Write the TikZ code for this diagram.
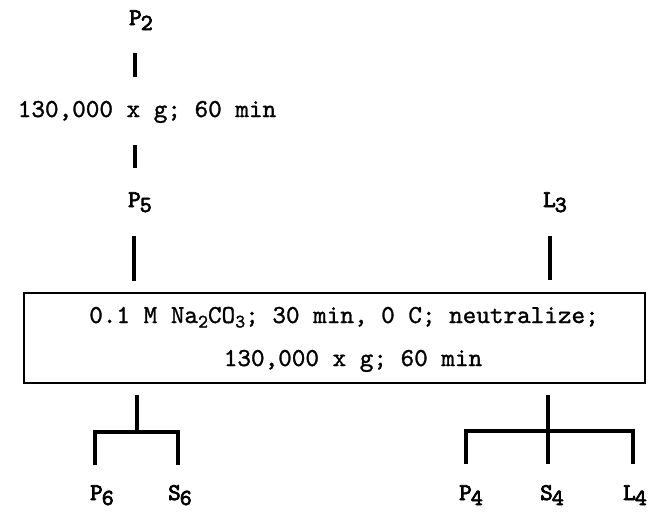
\documentclass[tikz,border=0pt]{standalone}
\usepackage{fontspec}
\newfontfamily\bodytt{lmmono10-regular}[Extension=.otf, FakeBold=1.2]
\newfontfamily\labtt{lmmono10-regular}[Extension=.otf, FakeBold=3]
\newcommand{\lab}[2]{#1\kern-1pt\raisebox{-5pt}{\fontsize{23}{23}\selectfont #2}}
\newcommand{\bsub}[1]{\raisebox{-4.5pt}{\fontsize{19}{19}\selectfont #1}}
\tikzset{
  lbl/.style={anchor=base, inner sep=0pt, font=\labtt\fontsize{24}{26}\selectfont},
  txt/.style={anchor=base, inner sep=0pt, font=\bodytt\fontsize{25.9}{28}\selectfont},
  thick line/.style={line width=3.4pt},
  boxline/.style={line width=1.2pt}
}
\begin{document}
\begin{tikzpicture}[x=1pt,y=-1pt]
\useasboundingbox (0,0) rectangle (655,512);
% labels
\node[lbl] (p2) at (141,25) {\lab{P}{2}};
\node[txt] (spin) at (147,117) {130,000 x g; 60 min};
\node[lbl] (p5) at (140,207) {\lab{P}{5}};
\node[lbl] (l3) at (555,207) {\lab{L}{3}};
\node[draw, boxline, minimum width=621pt, minimum height=90pt, inner sep=0pt] (box) at (334.5,338) {};
\node[txt] (line1) at (344,323) {0.1 M Na\bsub{2}CO\bsub{3}; 30 min, 0 C; neutralize;};
\node[txt] (line2) at (353,366) {130,000 x g; 60 min};
\node[lbl] (p6) at (102,500) {\lab{P}{6}};
\node[lbl] (s6) at (180,500) {\lab{S}{6}};
\node[lbl] (p4) at (471,500) {\lab{P}{4}};
\node[lbl] (s4) at (552,500) {\lab{S}{4}};
\node[lbl] (l4) at (635,500) {\lab{L}{4}};
% connector coordinates
\coordinate (t1a) at (135,53);  \coordinate (t1b) at (135,77);
\coordinate (t2a) at (135,145); \coordinate (t2b) at (135,168);
\coordinate (la) at (134,236);  \coordinate (lb) at (134,281);
\coordinate (ra) at (550,236);  \coordinate (rb) at (550,280);
\coordinate (ls) at (137,395);  \coordinate (lj) at (137,432);
\coordinate (lL) at (95,432);   \coordinate (lR) at (178,432);
\coordinate (lLb) at (95,465);  \coordinate (lRb) at (178,465);
\coordinate (rs) at (548,395);  \coordinate (rj) at (548,431);
\coordinate (rL) at (466,431);  \coordinate (rR) at (633,431);
\coordinate (rLb) at (466,464); \coordinate (rMb) at (548,464); \coordinate (rRb) at (633,464);
% connectors
\draw[thick line] (t1a) -- (t1b);
\draw[thick line] (t2a) -- (t2b);
\draw[thick line] (la) -- (lb);
\draw[thick line] (ra) -- (rb);
\draw[thick line] (ls) -- (lj);
\draw[thick line] (lLb) -- (lL) -- (lR) -- (lRb);
\draw[thick line] (rs) -- (rMb);
\draw[thick line] (rLb) -- (rL) -- (rR) -- (rRb);
\end{tikzpicture}
\end{document}
